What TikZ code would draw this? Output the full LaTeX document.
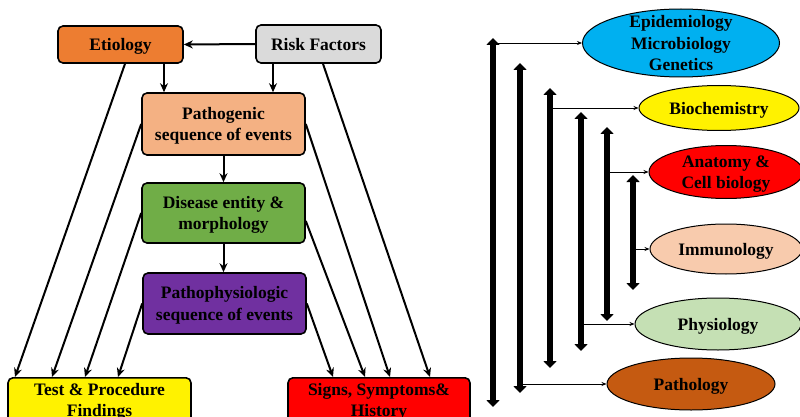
\documentclass[tikz,border=0pt]{standalone}
\usepackage{fontspec}
\setmainfont{Liberation Serif}
\usetikzlibrary{positioning,arrows.meta,shapes.geometric,calc}
\definecolor{etioOrange}{HTML}{ED7D31}
\definecolor{riskGray}{HTML}{DADADA}
\definecolor{pathoPeach}{HTML}{F4B183}
\definecolor{diseaseGreen}{HTML}{70AD47}
\definecolor{physioPurple}{HTML}{7030A0}
\definecolor{epiBlue}{HTML}{00B0F0}
\definecolor{immuPeach}{HTML}{F8CBAD}
\definecolor{physGreen}{HTML}{C5E0B4}
\definecolor{pathBrown}{HTML}{C55A11}

\begin{document}
\begin{tikzpicture}[x=1pt, y=-1pt,
    boxStyle/.style={rectangle, rounded corners=5pt, draw=black, line width=1.6pt, font=\fontsize{17.5}{21.5}\selectfont\bfseries, align=center, inner sep=1pt, text depth=0pt},
    ovalStyle/.style={ellipse, draw=black, line width=1pt, inner sep=0pt},
    ovalText/.style={font=\fontsize{17.5}{21.5}\selectfont\bfseries, align=center, inner sep=0pt, text depth=0pt},
    arrowStyle/.style={-{Stealth[length=9pt,width=8pt]}, line width=2pt},
    barStyle/.style={{Triangle[length=7pt,width=13pt]}-{Triangle[length=7pt,width=13pt]}, line width=5.5pt},
    linkStyle/.style={-{Stealth[length=5pt,width=4pt]}, line width=0.8pt}
]
    \fill[white] (0,0) rectangle (800,417);
    \useasboundingbox (0,0) rectangle (800,417);

    \node[boxStyle, fill=etioOrange, minimum width=125pt, minimum height=37pt] (etio) at (120.5, 44.5) {Etiology};
    \node[boxStyle, fill=riskGray, minimum width=125pt, minimum height=38pt] (risk) at (318.5, 44) {Risk Factors};
    \node[boxStyle, fill=pathoPeach, minimum width=163pt, minimum height=62pt] (patho) at (223.5, 124) {Pathogenic\\sequence of events};
    \node[boxStyle, fill=diseaseGreen, minimum width=163pt, minimum height=60pt] (disease) at (223.5, 213) {Disease entity \&\\morphology};
    \node[boxStyle, fill=physioPurple, minimum width=163pt, minimum height=61pt] (pathophys) at (224.5, 303.5) {Pathophysiologic\\sequence of events};
    \node[boxStyle, fill=yellow, minimum width=183pt, minimum height=44pt, anchor=north] (tests) at (99.5, 377) {Test \& Procedure\\Findings};
    \node[boxStyle, fill=red, minimum width=182pt, minimum height=44pt, anchor=north] (signs) at (379, 377) {Signs, Symptoms\&\\History};

    \draw[arrowStyle] (risk.west) -- (etio.east);
    \draw[arrowStyle] ([xshift=43.5pt]etio.south) -- ([xshift=-59.5pt]patho.north);
    \draw[arrowStyle] ([xshift=-45.5pt]risk.south) -- ([xshift=49.5pt]patho.north);
    \draw[arrowStyle] (patho.south) -- (disease.north);
    \draw[arrowStyle] (disease.south) -- (disease.south |- pathophys.north);

    \draw[arrowStyle] ([xshift=4.5pt]etio.south) -- ([xshift=-84.5pt]tests.north);
    \draw[arrowStyle] (patho.west) -- ([xshift=-47.5pt]tests.north);
    \draw[arrowStyle] (disease.west) -- ([xshift=-14.5pt]tests.north);
    \draw[arrowStyle] (pathophys.west) -- ([xshift=18.5pt]tests.north);
    \draw[arrowStyle] (pathophys.east) -- ([xshift=-46pt]signs.north);
    \draw[arrowStyle] ([yshift=-8pt]disease.east) -- ([xshift=-14pt]signs.north);
    \draw[arrowStyle] (patho.east) -- ([xshift=11pt]signs.north);
    \draw[arrowStyle] ([xshift=4.5pt]risk.south) -- ([xshift=51pt]signs.north);

    \node[ovalStyle, fill=epiBlue, minimum width=197pt, minimum height=68pt, label={[ovalText]center:Epidemiology\\Microbiology\\Genetics}] (epi) at (681, 43) {};
    \node[ovalStyle, fill=yellow, minimum width=160pt, minimum height=45pt, label={[ovalText]center:Biochemistry}] (bio) at (719, 108) {};
    \node[ovalStyle, fill=red, minimum width=154pt, minimum height=53pt, label={[ovalText]center:Anatomy \&\\Cell biology}] (anat) at (726, 172) {};
    \node[ovalStyle, fill=immuPeach, minimum width=152pt, minimum height=50pt, label={[ovalText]center:Immunology}] (immu) at (726, 249) {};
    \node[ovalStyle, fill=physGreen, minimum width=166pt, minimum height=52pt, label={[ovalText]center:Physiology}] (phys) at (718, 324) {};
    \node[ovalStyle, fill=pathBrown, minimum width=168pt, minimum height=52pt, label={[ovalText]center:Pathology}] (path) at (691, 384) {};

    \coordinate (barTop1) at (493, 38);  \coordinate (barBot1) at (493, 407);
    \coordinate (barTop2) at (520, 63);  \coordinate (barBot2) at (520, 393);
    \coordinate (barTop3) at (550, 88);  \coordinate (barBot3) at (550, 368);
    \coordinate (barTop4) at (581, 112); \coordinate (barBot4) at (581, 351);
    \coordinate (barTop5) at (607, 127); \coordinate (barBot5) at (607, 321);
    \coordinate (barTop6) at (633, 175); \coordinate (barBot6) at (633, 290);

    \draw[barStyle] (barTop1) -- (barBot1);
    \draw[barStyle] (barTop2) -- (barBot2);
    \draw[barStyle] (barTop3) -- (barBot3);
    \draw[barStyle] (barTop4) -- (barBot4);
    \draw[barStyle] (barTop5) -- (barBot5);
    \draw[barStyle] (barTop6) -- (barBot6);

    \draw[linkStyle] (barTop1 |- epi.west) -- (epi.west);
    \draw[linkStyle] (barTop3 |- bio.west) -- (bio.west);
    \draw[linkStyle] (barTop5 |- anat.west) -- (anat.west);
    \draw[linkStyle] (barTop6 |- immu.west) -- (immu.west);
    \draw[linkStyle] (barTop4 |- phys.west) -- (phys.west);
    \draw[linkStyle] (barTop2 |- path.west) -- (path.west);
\end{tikzpicture}
\end{document}
